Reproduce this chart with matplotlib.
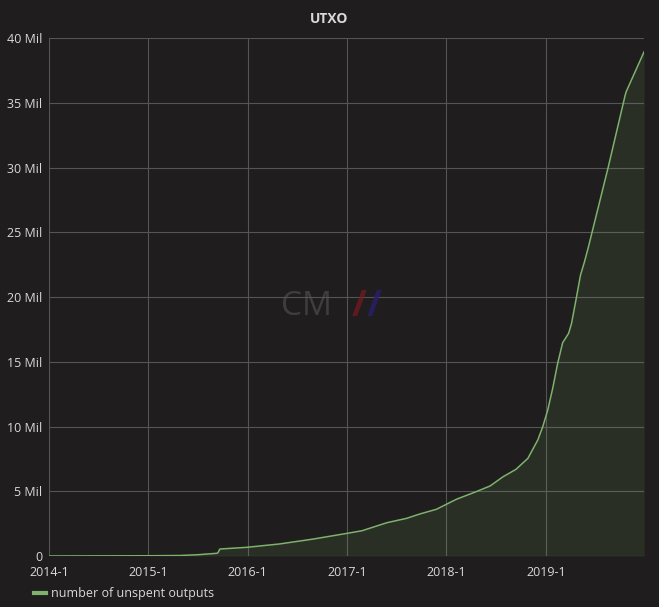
import matplotlib
matplotlib.use("Agg")
import matplotlib.pyplot as plt
from matplotlib.ticker import FuncFormatter, MultipleLocator

# UTXO count (millions), x in decimal years
years = [2014.0, 2014.5, 2015.0, 2015.32, 2015.5, 2015.69, 2015.70, 2015.72,
         2015.99, 2016.32, 2016.66, 2017.0, 2017.15, 2017.4, 2017.6, 2017.73,
         2017.9, 2018.1, 2018.3, 2018.44, 2018.57, 2018.7, 2018.82, 2018.92,
         2018.97, 2019.02, 2019.07, 2019.12, 2019.17, 2019.23, 2019.26,
         2019.31, 2019.35, 2019.39, 2019.43, 2019.48, 2019.53, 2019.63,
         2019.8, 2019.81, 2019.99]
utxo = [0.0, 0.01, 0.02, 0.04, 0.1, 0.21, 0.25, 0.54,
        0.67, 0.93, 1.31, 1.75, 1.95, 2.57, 2.91, 3.24,
        3.61, 4.38, 4.97, 5.41, 6.12, 6.69, 7.54, 8.96,
        9.99, 11.27, 12.95, 14.88, 16.47, 17.19, 17.97,
        20.02, 21.7, 22.72, 23.88, 25.43, 26.97, 30.06,
        35.6, 35.86, 38.94]

year_ticks = [2014, 2015, 2016, 2017, 2018, 2019]
year_labels = ["2014-1", "2015-1", "2016-1", "2017-1", "2018-1", "2019-1"]

bg = "#1f1d1d"
txt = "#d8d9da"
green = "#7eb26d"

plt.rcParams["font.family"] = ["Open Sans", "DejaVu Sans"]

fig = plt.figure(figsize=(6.59, 6.07), dpi=100, facecolor=bg)
ax = fig.add_axes([0.0744, 0.084, 0.903, 0.8534], facecolor=bg)

ax.plot(years, utxo, color=green, lw=1.1, zorder=3)
ax.fill_between(years, utxo, 0, color=green, alpha=0.12, lw=0, zorder=2)

ax.set_xlim(2014.0, 2019.99)
ax.set_ylim(0, 40)
ax.set_xticks(year_ticks)
ax.set_xticklabels(year_labels)
ax.yaxis.set_major_locator(MultipleLocator(5))
ax.yaxis.set_major_formatter(FuncFormatter(lambda v, p: "0" if v == 0 else f"{int(v)} Mil"))

ax.grid(True, color="#555555", lw=0.8)
ax.set_axisbelow(True)
for s in ax.spines.values():
    s.set_visible(False)
ax.tick_params(colors=txt, labelsize=9, length=0)
ax.tick_params(axis="x", pad=7)
ax.tick_params(axis="y", pad=5)

fig.text(0.5, 0.968, "UTXO", color=txt, fontsize=10, fontweight="bold",
         ha="center", va="center")

# watermark
fig.text(0.465, 0.495, "CM", color="#555555", alpha=0.6, fontsize=24,
         ha="center", va="center")
fig.text(0.545, 0.495, "/", color="#7a1a22", alpha=0.7, fontsize=26,
         fontweight="bold", ha="center", va="center")
fig.text(0.568, 0.495, "/", color="#2a1f6e", alpha=0.8, fontsize=26,
         fontweight="bold", ha="center", va="center")

# legend
fig.lines.append(plt.Line2D([0.052, 0.07], [0.023, 0.023], color=green, lw=3,
                            transform=fig.transFigure))
fig.text(0.077, 0.023, "number of unspent outputs", color=txt, fontsize=9,
         va="center", ha="left")

fig.savefig("out.png", dpi=100, facecolor=bg)
